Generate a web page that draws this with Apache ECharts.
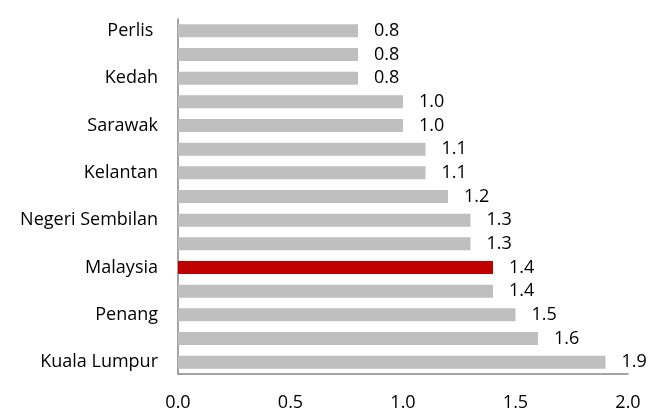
<!DOCTYPE html>
<html>
<head>
<meta charset="utf-8">
<script src="https://cdn.jsdelivr.net/npm/echarts@6/dist/echarts.min.js"></script>
<style>
  html, body { margin: 0; padding: 0; background: #fff; }
  #main { width: 663px; height: 412px; }
</style>
</head>
<body>
<div id="main"></div>
<script>
// categories top to bottom; only every other name is labelled in the chart
const states = ['Perlis ', 'Sabah', 'Kedah', 'Perak', 'Sarawak', 'Pahang', 'Kelantan', 'Terengganu',
  'Negeri Sembilan', 'Johor', 'Malaysia', 'Melaka', 'Penang', 'Selangor', 'Kuala Lumpur'];
const values = [0.8, 0.8, 0.8, 1.0, 1.0, 1.1, 1.1, 1.2, 1.3, 1.3, 1.4, 1.4, 1.5, 1.6, 1.9];
const xTicks = [0, 0.5, 1.0, 1.5, 2.0];
const highlight = 'Malaysia';

const font = '"Open Sans", sans-serif';
const chart = echarts.init(document.getElementById('main'));

chart.setOption({
  animation: false,
  grid: { left: 178, right: 35, top: 19, bottom: 38, containLabel: false },
  xAxis: {
    type: 'value',
    min: xTicks[0],
    max: xTicks[xTicks.length - 1],
    interval: 0.5,
    splitLine: { show: false },
    axisTick: { show: false },
    axisLine: { show: true, lineStyle: { color: '#868686', width: 1.5 } },
    axisLabel: {
      margin: 20, fontSize: 18, color: '#000', fontFamily: font,
      formatter: v => v.toFixed(1)
    }
  },
  yAxis: {
    type: 'category',
    inverse: true,
    data: states,
    axisTick: { show: false },
    axisLine: { show: true, lineStyle: { color: '#868686', width: 1.5 } },
    axisLabel: { interval: 1, margin: 20, fontSize: 18, color: '#000', fontFamily: font }
  },
  series: [{
    type: 'bar',
    barWidth: 13,
    data: values.map((v, i) => ({
      value: v,
      itemStyle: { color: states[i] === highlight ? '#C00000' : '#BFBFBF' }
    })),
    label: {
      show: true, position: 'right', distance: 16,
      fontSize: 18, color: '#000', fontFamily: font,
      formatter: p => p.value.toFixed(1)
    }
  }]
});
</script>
</body>
</html>
